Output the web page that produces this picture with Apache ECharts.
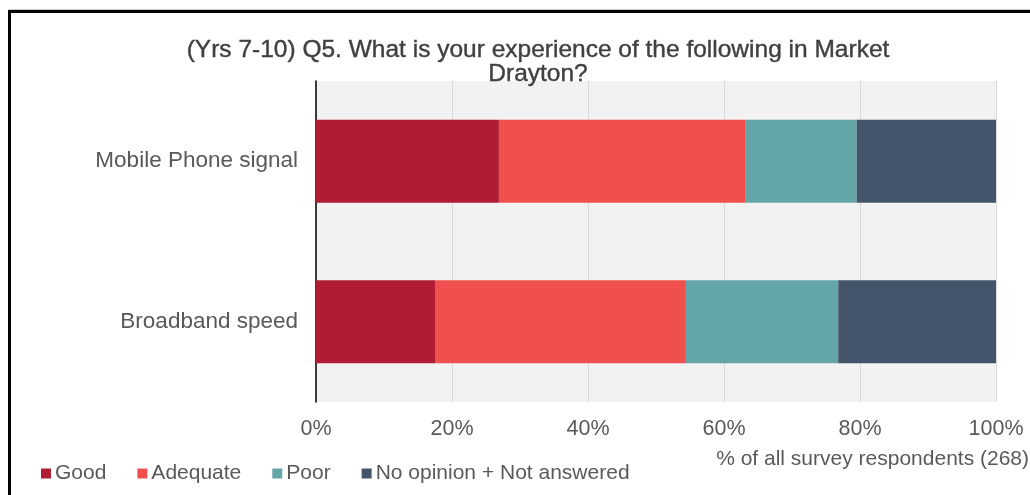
<!DOCTYPE html>
<html>
<head>
<meta charset="utf-8">
<script src="https://cdn.jsdelivr.net/npm/echarts@6/dist/echarts.min.js"></script>
<style>html,body{margin:0;padding:0;background:#fff}#c{width:1030px;height:495px}</style>
</head>
<body>
<div id="c"></div>
<script>
const categories = ['Mobile Phone signal', 'Broadband speed'];
const seriesNames = ['Good', 'Adequate', 'Poor', 'No opinion + Not answered'];
const good = [26.9, 17.5];
const adequate = [36.2, 36.9];
const poor = [16.4, 22.4];
const noOpinion = [20.5, 23.2];
const xTicks = [0, 20, 40, 60, 80, 100];
const colors = ['#B01C33', '#F0504D', '#64A5A8', '#44546A'];

const values = [good, adequate, poor, noOpinion];
const font = 'Liberation Sans';
const chart = echarts.init(document.getElementById('c'));
chart.setOption({
  animation: false,
  backgroundColor: '#fff',
  textStyle: { fontFamily: font },
  title: [
    {
      text: '(Yrs 7-10) Q5. What is your experience of the following in Market\nDrayton?',
      left: 533, textAlign: 'center', top: 33,
      textStyle: { fontFamily: font, fontSize: 24.5, fontWeight: 'normal', color: '#404040', lineHeight: 24, textBorderColor: '#404040', textBorderWidth: 0.4 }
    },
    {
      text: '% of all survey respondents (268)',
      right: -4, top: 444,
      textStyle: { fontFamily: font, fontSize: 21, fontWeight: 'normal', color: '#595959' }
    }
  ],
  legend: {
    left: 36, top: 458,
    itemWidth: 10, itemHeight: 10, itemGap: 31,
    icon: 'rect',
    textStyle: { fontFamily: font, fontSize: 21, color: '#595959', padding: [0, 0, 0, -1] },
    data: seriesNames
  },
  grid: {
    left: 316, right: 34, top: 81, bottom: 93,
    show: true, backgroundColor: '#f2f2f2', borderWidth: 0
  },
  xAxis: {
    type: 'value', min: 0, max: 100, interval: 20,
    axisLine: { show: false }, axisTick: { show: false },
    splitLine: { show: true, lineStyle: { color: '#d9d9d9', width: 1 } },
    axisLabel: {
      formatter: v => xTicks.includes(v) ? v + '%' : '',
      fontFamily: font, fontSize: 21.5, color: '#595959', margin: 16
    }
  },
  yAxis: {
    type: 'category', data: categories, inverse: true,
    axisLine: { show: true, lineStyle: { color: '#000', width: 1.5 } },
    axisTick: { show: false },
    axisLabel: { fontFamily: font, fontSize: 22.5, color: '#595959', margin: 18 }
  },
  series: seriesNames.map((n, i) => ({
    name: n, type: 'bar', stack: 'all', barWidth: 83,
    itemStyle: { color: colors[i] },
    data: values[i]
  })),
  graphic: [
    { type: 'line', shape: { x1: 9, y1: 9.5, x2: 1030, y2: 9.5 }, style: { stroke: '#c8c8c8', lineWidth: 1 }, z: 100 },
    { type: 'rect', shape: { x: 9.5, y: 11.5, width: 1200, height: 700 }, style: { fill: null, stroke: '#000', lineWidth: 3 }, z: 100 }
  ]
});
</script>
</body>
</html>
